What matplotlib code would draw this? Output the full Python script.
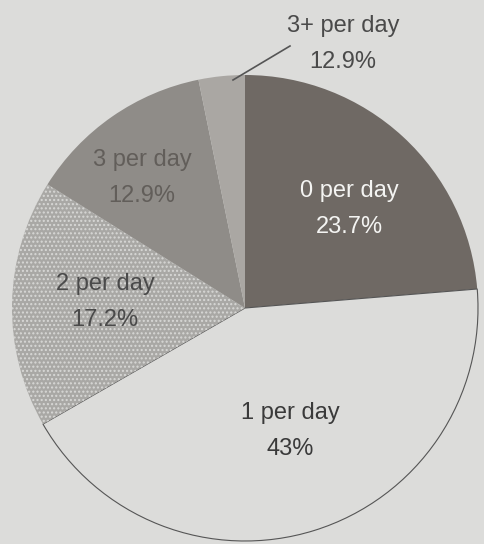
import matplotlib
matplotlib.use("Agg")
import matplotlib.pyplot as plt

plt.rcParams['font.family'] = ['Liberation Sans', 'DejaVu Sans']

categories = ["0 per day", "1 per day", "2 per day", "3 per day", "3+ per day"]
shares = [23.7, 43.0, 17.2, 12.9, 3.2]          # slice sizes
pct_labels = ["23.7%", "43%", "17.2%", "12.9%", "12.9%"]  # printed labels
colors = ["#6f6964", "#dcdcda", "#a9a8a5", "#8f8c88", "#aaa7a3"]
text_colors = ["#f4f4f2", "#3a3a3a", "#4a4a4a", "#625e5a", "#4a4a4a"]

W, H = 484, 544
fig = plt.figure(figsize=(W / 100, H / 100), dpi=100)
fig.patch.set_facecolor("#dcdcda")
ax = fig.add_axes([0, 0, 1, 1])

cx, cy, r = 245, H - 308, 233
wedges, _ = ax.pie(shares, colors=colors, startangle=90, counterclock=False,
                   center=(cx, cy), radius=r, frame=True,
                   wedgeprops=dict(linewidth=0))
ax.set_xlim(0, W)
ax.set_ylim(0, H)
ax.set_aspect("equal")
ax.axis("off")

# thin outline along the light slice
wedges[1].set_edgecolor("#555555")
wedges[1].set_linewidth(0.8)
wedges[2].set_hatch("....")
wedges[2].set_edgecolor("#d8d8d6")
wedges[2].set_linewidth(0)

# labels (positions in pixel coordinates, y from top)
pos = {0: (349, 209), 1: (290, 431), 2: (105, 302), 3: (142, 178)}
for i, (x, y) in pos.items():
    ax.text(x, H - y, f"{categories[i]}\n{pct_labels[i]}", ha="center",
            va="center", fontsize=17, color=text_colors[i], linespacing=1.85)

# callout for the small slice
ax.text(343, H - 44, f"{categories[4]}\n{pct_labels[4]}", ha="center",
        va="center", fontsize=17, color=text_colors[4], linespacing=1.85)
ax.plot([290, 233], [H - 46, H - 80], color="#555555", linewidth=1.2)

fig.savefig("out.png", dpi=100, facecolor=fig.get_facecolor())
